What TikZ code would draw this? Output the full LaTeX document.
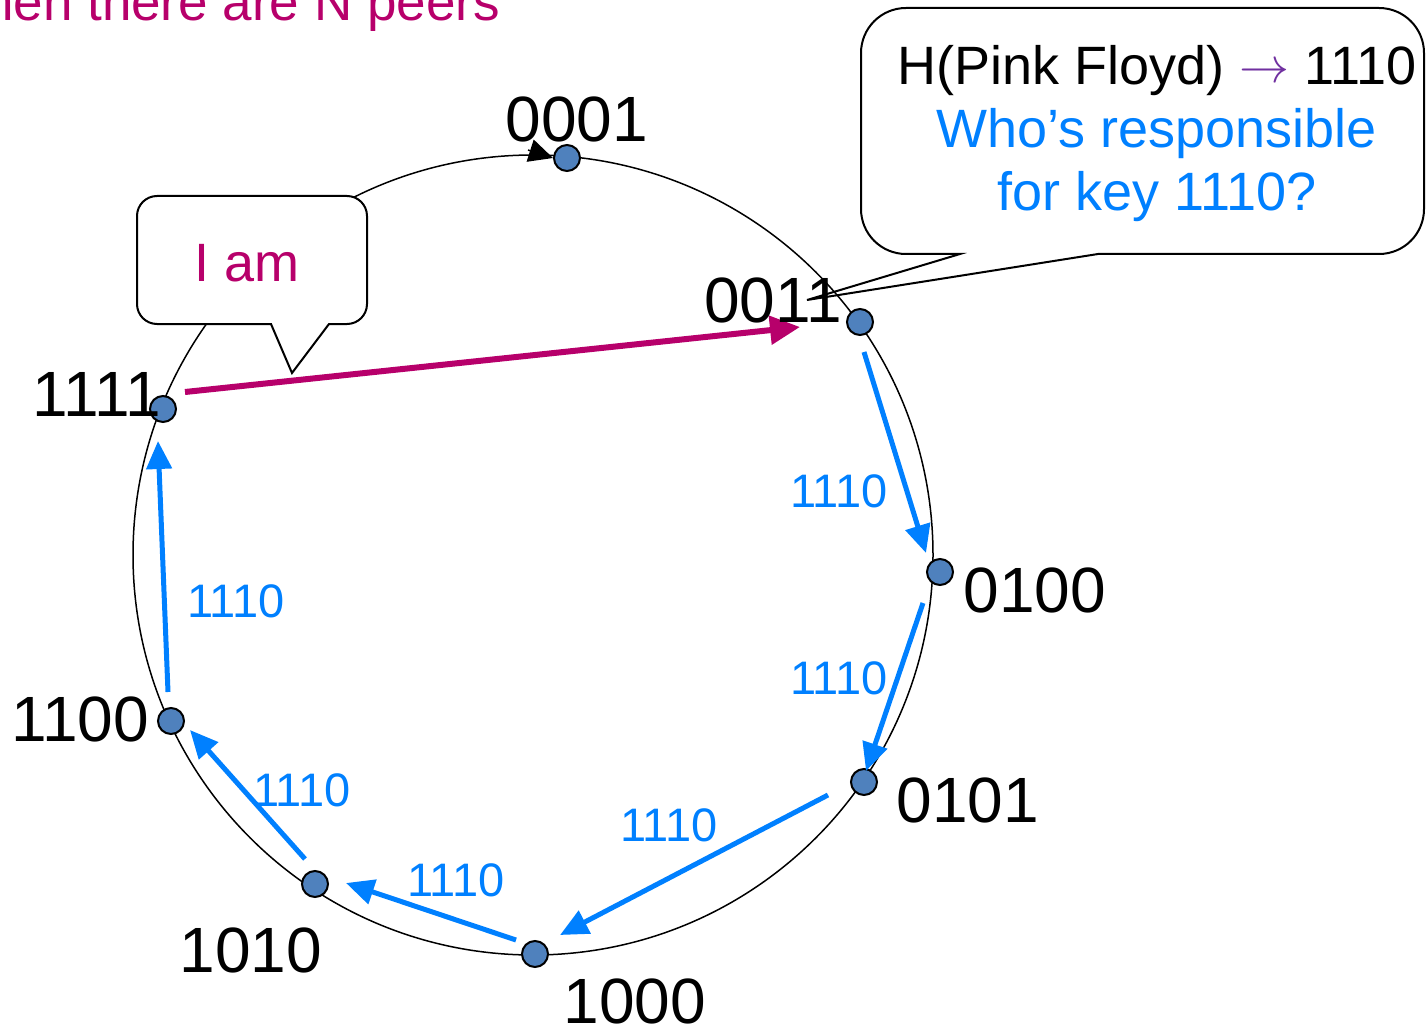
\documentclass[tikz,border=0pt]{standalone}
\usepackage{fontspec}
\setmainfont{Liberation Sans}
\usetikzlibrary{arrows.meta}
\definecolor{kblue}{RGB}{0,128,255}
\definecolor{kmag}{RGB}{183,0,107}
\definecolor{dotfill}{RGB}{79,129,189}
\definecolor{kpurple}{RGB}{112,48,160}
\begin{document}
\begin{tikzpicture}[x=1pt,y=-1pt,
  dot/.style={circle,draw=black,line width=2pt,fill=dotfill,minimum size=26pt,inner sep=0pt},
  lbl/.style={anchor=base,inner sep=0pt,font=\fontsize{64}{70}\selectfont},
  klbl/.style={anchor=base,inner sep=0pt,text=kblue,font=\fontsize{47}{52}\selectfont},
  ctext/.style={anchor=base,inner sep=0pt,font=\fontsize{54}{60}\selectfont},
  hop/.style={draw=kblue,line width=5pt,-{Triangle[length=28pt,width=25pt]}},
  bubble/.style={draw=black,line width=2pt,fill=white},
]
\useasboundingbox (0,0) rectangle (1426,1024);
\clip (0,0) rectangle (1426,1024);

% top title fragment
\node[anchor=base east,inner sep=0pt,text=kmag,font=\fontsize{53}{60}\selectfont] (title) at (500,21) {When there are N peers};

% big callout
\draw[bubble] (960,254) -- (807,300) -- (1098,254) -- (1379,254)
  arc[start angle=-90,end angle=0,radius=45pt] -- (1424,53)
  arc[start angle=0,end angle=90,radius=45pt] -- (906,8)
  arc[start angle=90,end angle=180,radius=45pt] -- (861,209)
  arc[start angle=180,end angle=270,radius=45pt] -- cycle;
\node[ctext] (c1) at (1157,85) {H(Pink Floyd) \textcolor{kpurple}{\raisebox{2pt}{\resizebox{50pt}{!}{$\rightarrow$}}} 1110};
\node[ctext,text=kblue] (c2) at (1157,148) {Who’s responsible};
\node[ctext,text=kblue] (c3) at (1157,211) {for key 1110?};

% ring
\node[circle,draw=black,line width=1.5pt,minimum size=800pt,inner sep=0pt] (ring) at (533,555) {};

% I am callout
\draw[bubble] (271,324) -- (292,373) -- (329,324) -- (347,324)
  arc[start angle=-90,end angle=0,radius=20pt] -- (367,216)
  arc[start angle=0,end angle=90,radius=20pt] -- (157,196)
  arc[start angle=90,end angle=180,radius=20pt] -- (137,304)
  arc[start angle=180,end angle=270,radius=20pt] -- cycle;
\node[ctext,text=kmag] (iam) at (247,281) {I am};

% peers
\node[dot] (n0001) at (567,158) {};
\node[dot] (n0011) at (860,322) {};
\node[dot] (n0100) at (940,572) {};
\node[dot] (n0101) at (864,782) {};
\node[dot] (n1000) at (535,954) {};
\node[dot] (n1010) at (315,884) {};
\node[dot] (n1100) at (171,721) {};
\node[dot] (n1111) at (163,409) {};

% arrowhead on ring at 0001
\coordinate (ah) at (528,150);
\draw[line width=1.5pt,-{Triangle[length=24pt,width=23pt]}] (ah) -- (n0001.west);

% lookup hops
\coordinate (h1s) at (864,352); \coordinate (h1e) at (926,553);
\coordinate (h2s) at (923,603); \coordinate (h2e) at (866,771);
\coordinate (h3s) at (828,795); \coordinate (h3e) at (560,935);
\coordinate (h4s) at (516,940); \coordinate (h4e) at (346,883);
\coordinate (h5s) at (305,859); \coordinate (h5e) at (190,730);
\coordinate (h6s) at (168,692); \coordinate (h6e) at (158,441);
\draw[hop] (h1s) -- (h1e);
\draw[hop] (h2s) -- (h2e);
\draw[hop] (h3s) -- (h3e);
\draw[hop] (h4s) -- (h4e);
\draw[hop] (h5s) -- (h5e);
\draw[hop] (h6s) -- (h6e);

% reply
\coordinate (rs) at (185,392); \coordinate (re) at (800,327);
\draw[draw=kmag,line width=6pt,-{Triangle[length=30pt,width=28pt]}] (rs) -- (re);

% peer labels
\node[lbl] (l0001) at (577,142) {0001};
\node[lbl] (l0011) at (773,322) {0011};
\node[lbl] (l0100) at (1035,612) {0100};
\node[lbl] (l0101) at (968,822) {0101};
\node[lbl] (l1000) at (635,1023) {1000};
\node[lbl] (l1010) at (251,972) {1010};
\node[lbl] (l1100) at (80,741) {1100};
\node[lbl] (l1111) at (97,416) {1111};

% hop labels
\node[klbl] (k1) at (839,507) {1110};
\node[klbl] (k2) at (839,694) {1110};
\node[klbl] (k3) at (669,841) {1110};
\node[klbl] (k4) at (456,896) {1110};
\node[klbl] (k5) at (302,806) {1110};
\node[klbl] (k6) at (236,617) {1110};
\end{tikzpicture}
\end{document}
